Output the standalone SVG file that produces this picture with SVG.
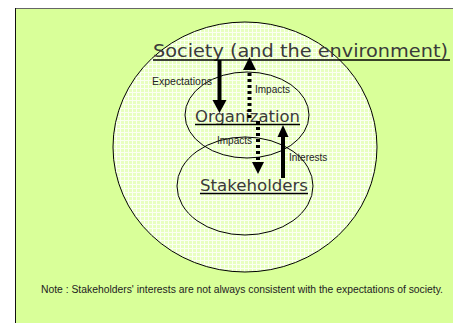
<svg xmlns="http://www.w3.org/2000/svg" width="453" height="323" viewBox="0 0 453 323">
<defs>
<pattern id="grid" width="4" height="4" patternUnits="userSpaceOnUse">
<rect width="4" height="4" fill="#e8ffc0"/>
<path d="M0 0.5H4M0.5 0V4" stroke="#fbfff2" stroke-width="1"/>
</pattern>
</defs>
<style>
.big{font-family:"DejaVu Sans",Verdana,sans-serif;fill:#3a3a3a;}
.lbl{font-family:"Liberation Sans",Arial,sans-serif;font-size:10px;fill:#222;}
.ell{stroke:#000;stroke-width:1;}
.ul{stroke:#000;stroke-width:1.5;}
.solid{stroke:#000;stroke-width:4;fill:none;}
.dot{stroke:#000;stroke-width:4;fill:none;stroke-dasharray:3 3;}
</style>
<rect x="0" y="0" width="453" height="323" fill="#fff"/>
<rect x="15" y="8" width="445" height="320" fill="#d9ff99"/>
<line x1="15" y1="8.5" x2="453" y2="8.5" stroke="#666" stroke-width="1"/>
<line x1="15.5" y1="8" x2="15.5" y2="323" stroke="#111" stroke-width="1"/>
<g id="society">
<ellipse class="ell" cx="245" cy="147" rx="132" ry="125" fill="url(#grid)"/>
</g>
<g id="organization">
<ellipse class="ell" cx="247" cy="115" rx="62" ry="43" fill="none"/>
</g>
<g id="stakeholders">
<ellipse class="ell" cx="245" cy="186" rx="68" ry="49" fill="none"/>
</g>
<g id="titles">
<text class="big" x="153" y="57" font-size="18" textLength="295" lengthAdjust="spacingAndGlyphs">Society (and the environment)</text>
<line class="ul" x1="153" y1="60" x2="450" y2="60"/>
<text class="big" x="195" y="122" font-size="16" textLength="105" lengthAdjust="spacingAndGlyphs">Organization</text>
<line class="ul" x1="195" y1="124.5" x2="300" y2="124.5"/>
<text class="big" x="200" y="191" font-size="16" textLength="108" lengthAdjust="spacingAndGlyphs">Stakeholders</text>
<line class="ul" x1="200" y1="193.5" x2="308" y2="193.5"/>
</g>
<g id="connectors">
<line class="solid" x1="219.5" y1="60" x2="219.5" y2="101"/>
<path d="M212.5 100L226.5 100L219.5 113Z" fill="#000"/>
<line class="dot" x1="249.5" y1="118" x2="249.5" y2="69"/>
<path d="M243 70L256 70L249.5 57Z" fill="#000"/>
<line class="dot" x1="258" y1="121" x2="258" y2="163"/>
<path d="M252 162L264 162L258 174Z" fill="#000"/>
<line class="solid" x1="283" y1="178" x2="283" y2="136"/>
<path d="M277.5 137L288.5 137L283 125Z" fill="#000"/>
</g>
<g id="labels">
<text class="lbl" x="152" y="85" textLength="60" lengthAdjust="spacingAndGlyphs">Expectations</text>
<text class="lbl" x="255" y="93">Impacts</text>
<text class="lbl" x="217" y="144">Impacts</text>
<text class="lbl" x="289" y="161">Interests</text>
<text class="lbl" x="41" y="293" textLength="402" lengthAdjust="spacingAndGlyphs">Note : Stakeholders' interests are not always consistent with the expectations of society.</text>
</g>
</svg>
